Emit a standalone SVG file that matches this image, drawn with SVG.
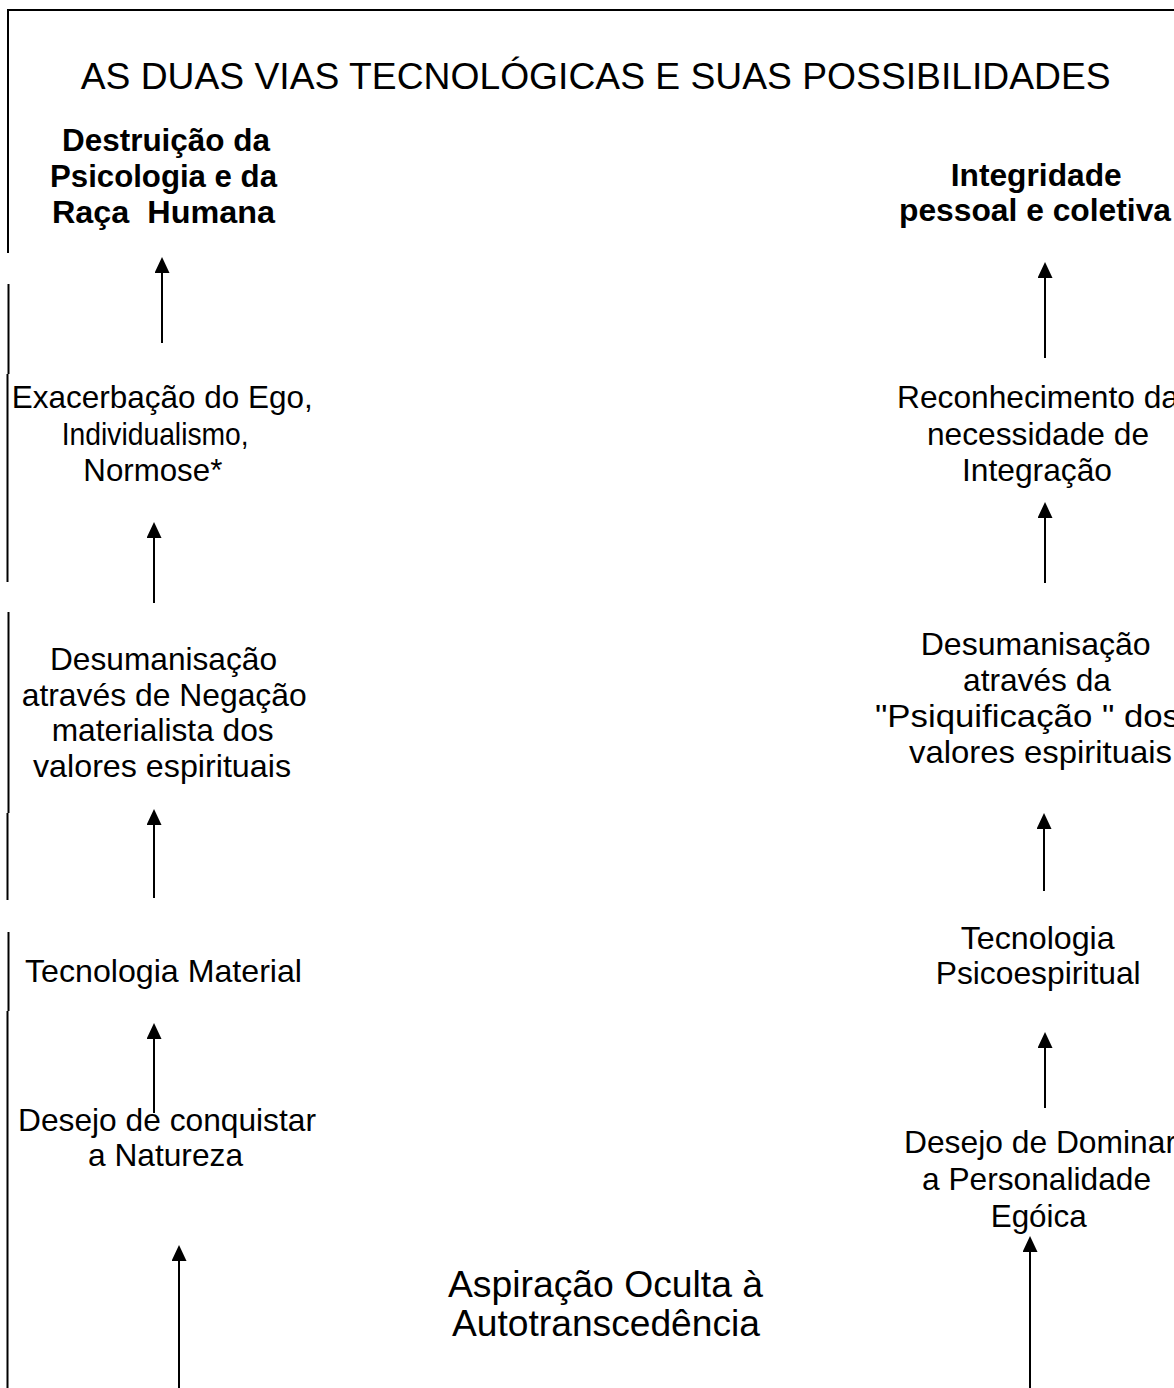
<svg xmlns="http://www.w3.org/2000/svg" width="1174" height="1388" viewBox="0 0 1174 1388">
<style>
.t{font-family:"Liberation Sans",Arial,sans-serif;font-size:32px;fill:#000}
.b{font-weight:bold;font-size:31.5px}
.h{font-size:36px}
.frame{stroke:#000;stroke-width:2;fill:none}
.conn{stroke:#000;stroke-width:2;fill:none}
</style>
<defs>
<marker id="ah" markerUnits="userSpaceOnUse" markerWidth="16" markerHeight="15" refX="0" refY="7.5" orient="auto">
<path d="M0,0 L16,7.5 L0,15 z" fill="#000"/>
</marker>
</defs>
<rect width="1174" height="1388" fill="#fff"/>
<g id="frame">
<line class="frame" x1="7" y1="10" x2="1174" y2="10"/>
<line class="frame" x1="8" y1="9" x2="8" y2="253"/>
<line class="frame" x1="8.5" y1="284" x2="8.5" y2="374"/>
<line class="frame" x1="7.5" y1="374" x2="7.5" y2="582"/>
<line class="frame" x1="8.5" y1="612" x2="8.5" y2="813"/>
<line class="frame" x1="7.5" y1="813" x2="7.5" y2="900"/>
<line class="frame" x1="8.5" y1="932" x2="8.5" y2="1011"/>
<line class="frame" x1="7.5" y1="1011" x2="7.5" y2="1388"/>
</g>
<g id="title">
<text class="t h" x="80.7" y="89" textLength="1030" lengthAdjust="spacingAndGlyphs">AS DUAS VIAS TECNOLÓGICAS E SUAS POSSIBILIDADES</text>
</g>
<g id="connectors">
<line class="conn" x1="162" y1="343" x2="162" y2="273" marker-end="url(#ah)"/>
<line class="conn" x1="154" y1="603" x2="154" y2="538" marker-end="url(#ah)"/>
<line class="conn" x1="154" y1="898" x2="154" y2="825" marker-end="url(#ah)"/>
<line class="conn" x1="154" y1="1113" x2="154" y2="1039" marker-end="url(#ah)"/>
<line class="conn" x1="179" y1="1388" x2="179" y2="1261" marker-end="url(#ah)"/>
<line class="conn" x1="1045" y1="358" x2="1045" y2="278" marker-end="url(#ah)"/>
<line class="conn" x1="1045" y1="583" x2="1045" y2="518" marker-end="url(#ah)"/>
<line class="conn" x1="1044" y1="891" x2="1044" y2="829" marker-end="url(#ah)"/>
<line class="conn" x1="1045" y1="1108" x2="1045" y2="1048" marker-end="url(#ah)"/>
<line class="conn" x1="1030" y1="1388" x2="1030" y2="1252" marker-end="url(#ah)"/>
</g>
<g id="destruicao">
<text class="t b" x="62" y="151" textLength="208" lengthAdjust="spacingAndGlyphs">Destruição da</text>
<text class="t b" x="50" y="187" textLength="227" lengthAdjust="spacingAndGlyphs">Psicologia e da</text>
<text class="t b" x="52" y="223" textLength="223" lengthAdjust="spacingAndGlyphs" xml:space="preserve">Raça  Humana</text>
</g>
<g id="exacerbacao">
<text class="t" x="11.7" y="408" textLength="301" lengthAdjust="spacingAndGlyphs">Exacerbação do Ego,</text>
<text class="t" x="61.7" y="444.5" textLength="187" lengthAdjust="spacingAndGlyphs">Individualismo,</text>
<text class="t" x="83.3" y="481" textLength="139" lengthAdjust="spacingAndGlyphs">Normose*</text>
</g>
<g id="desumanisacao-material">
<text class="t" x="50" y="670" textLength="227" lengthAdjust="spacingAndGlyphs">Desumanisação</text>
<text class="t" x="21.7" y="705.5" textLength="285" lengthAdjust="spacingAndGlyphs">através de Negação</text>
<text class="t" x="51.7" y="741" textLength="222" lengthAdjust="spacingAndGlyphs">materialista dos</text>
<text class="t" x="33" y="776.5" textLength="258" lengthAdjust="spacingAndGlyphs">valores espirituais</text>
</g>
<g id="tecnologia-material">
<text class="t" x="25" y="982" textLength="277" lengthAdjust="spacingAndGlyphs">Tecnologia Material</text>
</g>
<g id="desejo-natureza">
<text class="t" x="18" y="1131" textLength="298" lengthAdjust="spacingAndGlyphs">Desejo de conquistar</text>
<text class="t" x="88" y="1166" textLength="155" lengthAdjust="spacingAndGlyphs">a Natureza</text>
</g>
<g id="integridade">
<text class="t b" x="950.7" y="186" textLength="171" lengthAdjust="spacingAndGlyphs">Integridade</text>
<text class="t b" x="899" y="221" textLength="272" lengthAdjust="spacingAndGlyphs">pessoal e coletiva</text>
</g>
<g id="reconhecimento">
<text class="t" x="897" y="408" textLength="282" lengthAdjust="spacingAndGlyphs">Reconhecimento da</text>
<text class="t" x="927" y="444.5" textLength="222" lengthAdjust="spacingAndGlyphs">necessidade de</text>
<text class="t" x="962" y="481" textLength="150" lengthAdjust="spacingAndGlyphs">Integração</text>
</g>
<g id="desumanisacao-psiquificacao">
<text class="t" x="920.7" y="655" textLength="230" lengthAdjust="spacingAndGlyphs">Desumanisação</text>
<text class="t" x="963" y="691" textLength="148" lengthAdjust="spacingAndGlyphs">através da</text>
<text class="t" x="875" y="727" textLength="305" lengthAdjust="spacingAndGlyphs">"Psiquificação " dos</text>
<text class="t" x="909" y="763" textLength="263" lengthAdjust="spacingAndGlyphs">valores espirituais</text>
</g>
<g id="tecnologia-psicoespiritual">
<text class="t" x="960.7" y="949" textLength="154" lengthAdjust="spacingAndGlyphs">Tecnologia</text>
<text class="t" x="935.7" y="984" textLength="205" lengthAdjust="spacingAndGlyphs">Psicoespiritual</text>
</g>
<g id="desejo-dominar">
<text class="t" x="904" y="1153" textLength="272" lengthAdjust="spacingAndGlyphs">Desejo de Dominar</text>
<text class="t" x="922" y="1190" textLength="229" lengthAdjust="spacingAndGlyphs">a Personalidade</text>
<text class="t" x="990.7" y="1227" textLength="96" lengthAdjust="spacingAndGlyphs">Egóica</text>
</g>
<g id="aspiracao">
<text class="t h" x="448" y="1297" textLength="315" lengthAdjust="spacingAndGlyphs">Aspiração Oculta à</text>
<text class="t h" x="452" y="1336" textLength="308" lengthAdjust="spacingAndGlyphs">Autotranscedência</text>
</g>
</svg>
